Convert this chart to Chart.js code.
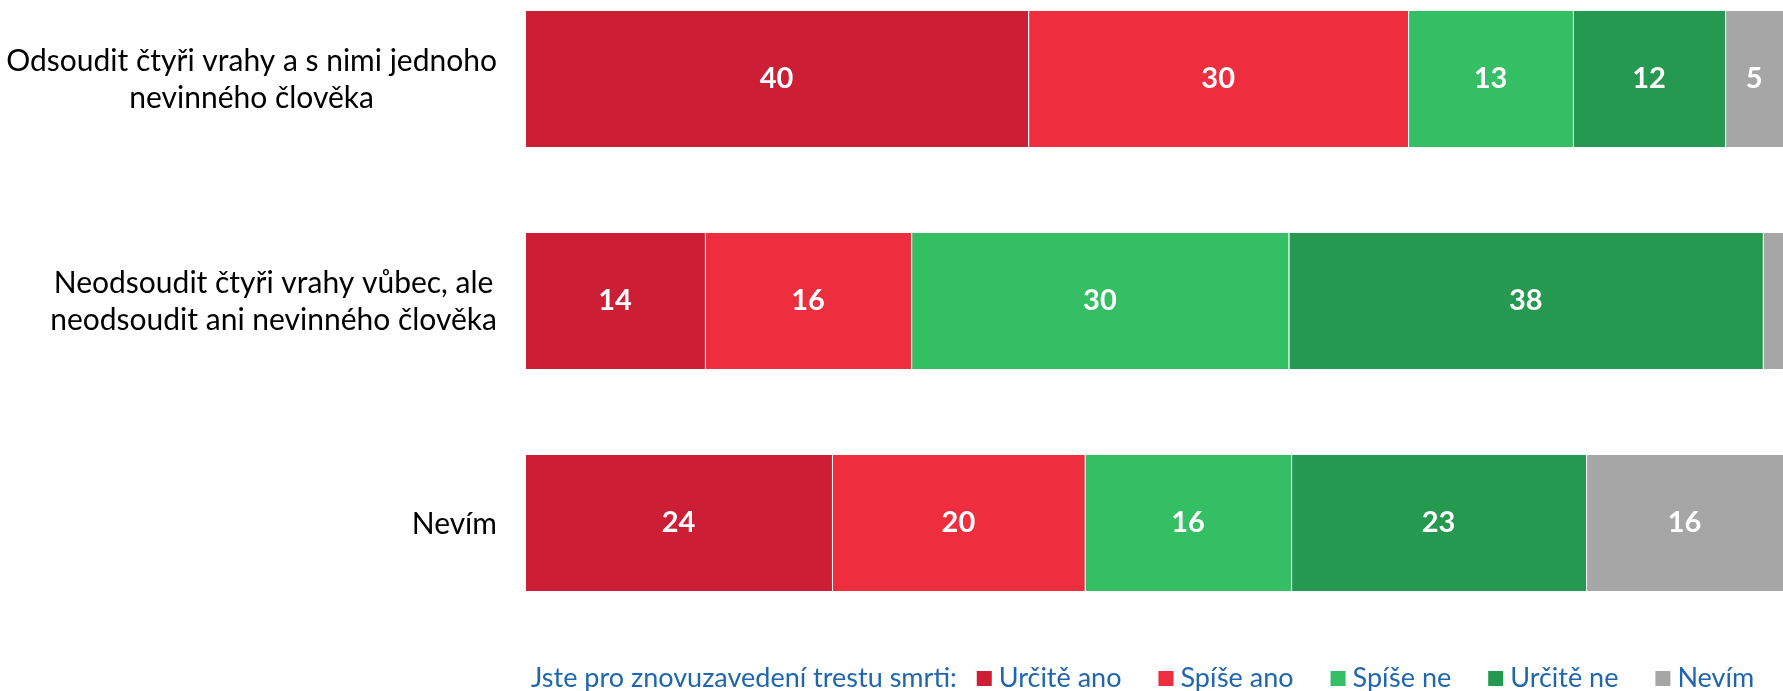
<!DOCTYPE html>
<html>
<head>
<meta charset="utf-8">
<script src="https://cdn.jsdelivr.net/npm/chart.js@4/dist/chart.umd.min.js"></script>
<style>
  html, body { margin: 0; padding: 0; background: #fff; overflow: hidden; }
  #wrap { position: relative; width: 1783px; height: 691px; overflow: hidden; }
  #plot { position: absolute; left: 0; top: -32px; }
</style>
</head>
<body>
<div id="wrap"><canvas id="plot" width="1783" height="723"></canvas></div>
<script>
// otázky (kategorie)
let otazky = [
  ["Odsoudit čtyři vrahy a s nimi jednoho", "nevinného člověka"],
  ["Neodsoudit čtyři vrahy vůbec, ale", "neodsoudit ani nevinného člověka"],
  ["Nevím"]
];

// odpovědi na trest smrti (%)
let urciteAno = [40, 14.3, 24.4];
let spiseAno = [30.2, 16.4, 20.1];
let spiseNe = [13.1, 30, 16.4];
let urciteNe = [12.1, 37.7, 23.45];
let nevim = [4.6, 1.6, 15.65];

let legendaTitulek = "Jste pro znovuzavedení trestu smrti:";

let modra = "#1F66AE";

// popisky osy y - bloky zarovnané vpravo, řádky na střed
let popiskyOsy = {
  id: "popiskyOsy",
  afterDraw(chart) {
    let ctx = chart.ctx;
    let y = chart.scales.y;
    ctx.save();
    ctx.font = "30px Lato";
    ctx.fillStyle = "#000";
    ctx.textAlign = "center";
    ctx.textBaseline = "middle";
    otazky.forEach((radky, i) => {
      let sirka = Math.max(...radky.map((r) => ctx.measureText(r).width));
      let cx = chart.chartArea.left - 28 - sirka / 2;
      let cy = y.getPixelForValue(i);
      let vyska = 37;
      radky.forEach((r, j) => {
        ctx.fillText(r, cx, cy + (j - (radky.length - 1) / 2) * vyska + 1);
      });
    });
    ctx.restore();
  }
};

// hodnoty uvnitř pruhů
let hodnoty = {
  id: "hodnoty",
  afterDatasetsDraw(chart) {
    let ctx = chart.ctx;
    ctx.save();
    ctx.font = "bold 29px Lato";
    ctx.fillStyle = "#fff";
    ctx.textAlign = "center";
    ctx.textBaseline = "middle";
    chart.data.datasets.forEach((ds, di) => {
      chart.getDatasetMeta(di).data.forEach((bar, i) => {
        let v = ds.data[i];
        if (v < 3) return;
        let p = bar.getCenterPoint();
        ctx.fillText(String(Math.round(v)), p.x, p.y);
      });
    });
    ctx.restore();
  }
};

// legenda v jednom řádku s titulkem
let legenda = {
  id: "legenda",
  afterDraw(chart) {
    let ctx = chart.ctx;
    ctx.save();
    ctx.font = "27px Lato";
    ctx.textBaseline = "middle";
    ctx.textAlign = "left";
    ctx.fillStyle = modra;
    let y = 710;
    let x = 531;
    ctx.fillText(legendaTitulek, x, y);
    x += ctx.measureText(legendaTitulek).width + 20;
    chart.data.datasets.forEach((ds) => {
      ctx.fillStyle = ds.backgroundColor;
      ctx.fillRect(x, y - 7, 15, 15);
      x += 22;
      ctx.fillStyle = modra;
      ctx.fillText(ds.label, x, y);
      x += ctx.measureText(ds.label).width + 37;
    });
    ctx.restore();
  }
};

let plotRef = document.getElementById("plot");

let config = {
  type: "bar",
  data: {
    labels: otazky.map((o) => o.join(" ")),
    datasets: [
      { label: "Určitě ano", data: urciteAno, backgroundColor: "#CC1E35" },
      { label: "Spíše ano", data: spiseAno, backgroundColor: "#EE2E3E" },
      { label: "Spíše ne", data: spiseNe, backgroundColor: "#35BF64" },
      { label: "Určitě ne", data: urciteNe, backgroundColor: "#259950" },
      { label: "Nevím", data: nevim, backgroundColor: "#A6A6A6" }
    ]
  },
  options: {
    indexAxis: "y",
    responsive: false,
    animation: false,
    devicePixelRatio: 1,
    layout: { padding: { left: 525, right: 0, top: 0, bottom: 57 } },
    datasets: {
      bar: {
        categoryPercentage: 0.622,
        barPercentage: 1,
        borderWidth: { left: 1, right: 0, top: 1, bottom: 1 },
        borderColor: "rgba(255,255,255,0.35)",
        borderSkipped: false
      }
    },
    scales: {
      x: { stacked: true, min: 0, max: 100, display: false },
      y: { stacked: true, display: false }
    },
    plugins: {
      legend: { display: false },
      tooltip: { enabled: false }
    }
  },
  plugins: [popiskyOsy, hodnoty, legenda]
};

let chart = new Chart(plotRef, config);
</script>
</body>
</html>
